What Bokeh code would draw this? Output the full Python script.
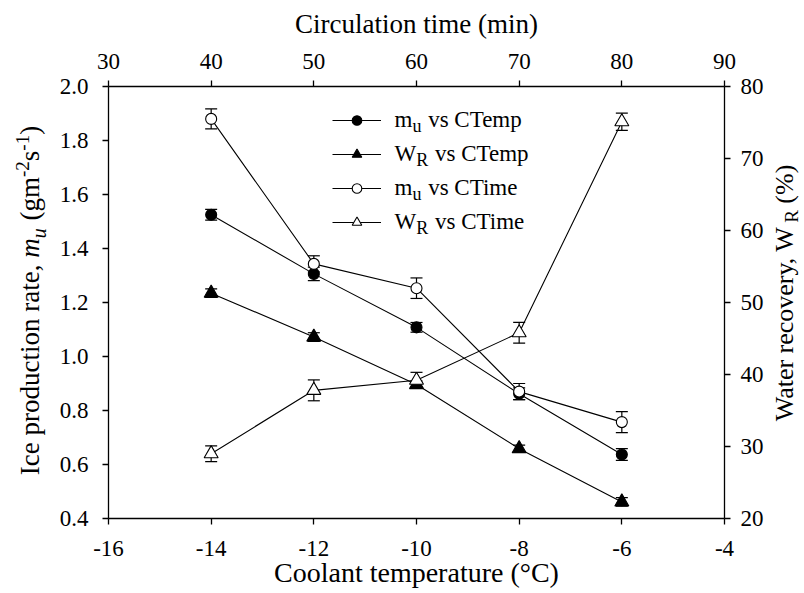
import math
from bokeh.plotting import figure
from bokeh.layouts import row
from bokeh.models import (Range1d, LinearAxis, FixedTicker, PrintfTickFormatter, Label,
                          Legend, LegendItem, ColumnDataSource)
from bokeh.core.properties import value
from bokeh.embed import file_html
from bokeh.resources import INLINE

# ---------------- data ----------------
coolant_temp = [-14, -12, -10, -8, -6]
circ_time = [40, 50, 60, 70, 80]

mu_vs_temp = [1.525, 1.306, 1.108, 0.862, 0.637]
mu_vs_temp_err = [0.02, 0.025, 0.018, 0.022, 0.022]
wr_vs_temp = [51.3, 45.2, 38.6, 29.7, 22.3]
wr_vs_temp_err = [0.6, 0.6, 0.5, 0.5, 0.6]

mu_vs_time = [1.880, 1.343, 1.253, 0.870, 0.757]
mu_vs_time_err = [0.037, 0.03, 0.038, 0.03, 0.039]
wr_vs_time = [29.0, 37.8, 39.2, 45.8, 75.1]
wr_vs_time_err = [1.1, 1.45, 1.1, 1.45, 1.2]

temp_ticks = [-16, -14, -12, -10, -8, -6, -4]
time_ticks = [30, 40, 50, 60, 70, 80, 90]
mu_ticks = [0.4, 0.6, 0.8, 1.0, 1.2, 1.4, 1.6, 1.8, 2.0]
wr_ticks = [20, 30, 40, 50, 60, 70, 80]

FONT = "Liberation Serif"
TICK_SIZE = "23px"

# ---------------- layout geometry ----------------
FW, FH = 616, 432            # plot frame
LEFT_W, MAIN_W, RIGHT_W = 50, 720, 30
H = 592
ML, MT = 58, 86
MB = H - MT - FH

p = figure(width=MAIN_W, height=H, x_range=Range1d(-16, -4), y_range=Range1d(0.4, 2.0),
           output_backend="svg", toolbar_location=None,
           x_axis_location=None, y_axis_location=None,
           min_border_left=ML, min_border_right=MAIN_W - ML - FW,
           min_border_top=MT, min_border_bottom=MB)
p.extra_x_ranges = {"time": Range1d(30, 90)}
p.extra_y_ranges = {"wr": Range1d(20, 80)}
p.outline_line_color = None
p.grid.visible = False
p.background_fill_color = "white"
p.border_fill_color = "white"

bottom_axis = LinearAxis()
left_axis = LinearAxis()
top_axis = LinearAxis(x_range_name="time")
right_axis = LinearAxis(y_range_name="wr")
p.add_layout(bottom_axis, "below")
p.add_layout(left_axis, "left")
p.add_layout(top_axis, "above")
p.add_layout(right_axis, "right")


def style_axis(ax, ticks, fmt, standoff):
    ax.ticker = FixedTicker(ticks=ticks)
    ax.formatter = PrintfTickFormatter(format=fmt)
    ax.major_tick_in = 0
    ax.major_tick_out = 6
    ax.minor_tick_in = 0
    ax.minor_tick_out = 0
    ax.axis_line_width = 1.3
    ax.axis_line_color = "black"
    ax.major_tick_line_width = 1.3
    ax.major_tick_line_color = "black"
    ax.major_label_text_font = FONT
    ax.major_label_text_font_size = TICK_SIZE
    ax.major_label_text_color = "black"
    ax.major_label_standoff = standoff
    ax.axis_label_text_font = FONT
    ax.axis_label_text_font_size = "27px"
    ax.axis_label_text_font_style = "normal"
    ax.axis_label_text_color = "black"


style_axis(bottom_axis, temp_ticks, "%d", 16)
style_axis(top_axis, time_ticks, "%d", 12)
style_axis(left_axis, mu_ticks, "%.1f", 14)
style_axis(right_axis, wr_ticks, "%d", 10)
top_axis.axis_label = "Circulation time (min)"
top_axis.axis_label_standoff = 12
bottom_axis.axis_label = "Coolant temperature (°C)"
bottom_axis.axis_label_text_font_size = "28px"
bottom_axis.axis_label_standoff = -2


# ---------------- series ----------------
def series(x, y, err, xr, yr, marker, filled, size):
    lower = [v - e for v, e in zip(y, err)]
    upper = [v + e for v, e in zip(y, err)]
    src = ColumnDataSource(dict(x=x, y=y, lo=lower, hi=upper))
    kw = {}
    if xr:
        kw["x_range_name"] = xr
    if yr:
        kw["y_range_name"] = yr
    p.segment("x", "lo", "x", "hi", source=src, line_color="black", line_width=1.2, **kw)
    p.scatter("x", "lo", source=src, marker="dash", size=12, line_color="black", line_width=1.2, **kw)
    p.scatter("x", "hi", source=src, marker="dash", size=12, line_color="black", line_width=1.2, **kw)
    ln = p.line("x", "y", source=src, line_color="black", line_width=1.1, **kw)
    sc = p.scatter("x", "y", source=src, marker=marker, size=size, line_color="black", line_width=1.1,
                   fill_color="black" if filled else "white", **kw)
    return ln, sc


r1 = series(coolant_temp, mu_vs_temp, mu_vs_temp_err, None, None, "circle", True, 11)
r2 = series(coolant_temp, wr_vs_temp, wr_vs_temp_err, None, "wr", "triangle", True, 14)
r3 = series(circ_time, mu_vs_time, mu_vs_time_err, "time", None, "circle", False, 11)
r4 = series(circ_time, wr_vs_time, wr_vs_time_err, "time", "wr", "triangle", False, 14)

# ---------------- legend (symbols) ----------------
LEG_X, LEG_Y = 224, 284
GLYPH_H, SPACING = 24, 10
legend = Legend(items=[LegendItem(label=value(" "), renderers=list(r)) for r in (r1, r2, r3, r4)],
                location=(LEG_X, LEG_Y), glyph_width=49, glyph_height=GLYPH_H, label_height=GLYPH_H,
                spacing=SPACING, padding=0, margin=0, label_standoff=0,
                border_line_color=None, background_fill_alpha=0,
                label_text_font_size="1px")
p.add_layout(legend)

# ---------------- rich text helpers ----------------
WID = {' ': 250, '(': 333, ')': 333, ',': 250, '-': 333, '.': 250, '%': 833, '°': 400,
       'A': 722, 'C': 667, 'I': 333, 'R': 667, 'T': 611, 'W': 944,
       'a': 444, 'c': 444, 'd': 500, 'e': 444, 'g': 500, 'i': 278, 'l': 278, 'm': 778,
       'n': 500, 'o': 500, 'p': 500, 'r': 333, 's': 389, 't': 278, 'u': 500, 'v': 500, 'y': 500}
WID_IT = {'m': 722, 'u': 500}
BASE_FIX = 0.32   # rendered baseline sits ~0.32 em below the anchor; compensate


def adv(text, size, italic):
    tab = WID_IT if italic else WID
    return sum(tab.get(c, WID.get(c, 500)) for c in text) * size / 1000.0


def rich(fig, pieces, x0, y0, vertical=False):
    """pieces: (text, size_px, shift_px (+ up), italic, extra_gap_after).
    Leading spaces are turned into an offset (SVG collapses them)."""
    a = 0.0
    for text, size, shift, italic, gap in pieces:
        stripped = text.lstrip(" ")
        lead = adv(text[:len(text) - len(stripped)], size, False)
        pos = a + lead
        up = shift + BASE_FIX * size
        if vertical:
            x, y, ang = x0 - up, y0 + pos, math.pi / 2
        else:
            x, y, ang = x0 + pos, y0 + up, 0
        if stripped.strip():
            fig.add_layout(Label(x=x, y=y, x_units="screen", y_units="screen", text=stripped.rstrip(" "),
                                 angle=ang, text_font=FONT, text_font_size=f"{size}px", text_color="black",
                                 text_font_style="italic" if italic else "normal",
                                 text_align="left", text_baseline="alphabetic"))
        a += adv(text, size, italic) + gap
    return a


def rich_len(pieces):
    return sum(adv(t, s, it) + g for t, s, _, it, g in pieces)


# legend texts
leg_texts = [
    [("m", 23, 0, False, 0), ("u", 18, -5, False, 1), (" vs CTemp", 23, 0, False, 0)],
    [("W", 23, 0, False, 0), ("R", 18, -5, False, 1), (" vs CTemp", 23, 0, False, 0)],
    [("m", 23, 0, False, 0), ("u", 18, -5, False, 1), (" vs CTime", 23, 0, False, 0)],
    [("W", 23, 0, False, 0), ("R", 18, -5, False, 1), (" vs CTime", 23, 0, False, 0)],
]
leg_top = FH - (LEG_Y + 4 * GLYPH_H + 3 * SPACING)
for i, pcs in enumerate(leg_texts):
    row_c = leg_top + GLYPH_H / 2 + i * (GLYPH_H + SPACING)
    rich(p, pcs, 286, FH - row_c - 6)


# ---------------- side panels for the rotated titles ----------------
def side_fig(w):
    f = figure(width=w, height=H, x_range=Range1d(0, 1), y_range=Range1d(0, 1),
               output_backend="svg", toolbar_location=None,
               x_axis_location=None, y_axis_location=None,
               min_border_left=0, min_border_right=0, min_border_top=MT, min_border_bottom=MB)
    f.outline_line_color = None
    f.grid.visible = False
    f.background_fill_color = "white"
    f.border_fill_color = "white"
    return f


left_fig = side_fig(LEFT_W)
right_fig = side_fig(RIGHT_W)

# y positions below are measured from the frame bottom (same frame rows as the main plot)
left_title = [("Ice production rate, ", 27, 0, False, 0), ("m", 27, 0, True, 0), ("u", 20, -6, True, 1),
              (" (gm", 27, 0, False, 0), ("-2", 19, 10, False, 0), ("s", 27, 0, False, 0),
              ("-1", 19, 10, False, 0), (")", 27, 0, False, 0)]
L = rich_len(left_title)
rich(left_fig, left_title, 38.5, 218 - L / 2, vertical=True)

right_title = [("Water recovery, W", 26, 0, False, 0), ("R", 19, -5, False, 0), (" (%)", 26, 0, False, 0)]
L = rich_len(right_title)
rich(right_fig, right_title, 22.5, 225.5 - L / 2, vertical=True)

layout = row(left_fig, p, right_fig)
open("out.html", "w").write(file_html(layout, INLINE))
